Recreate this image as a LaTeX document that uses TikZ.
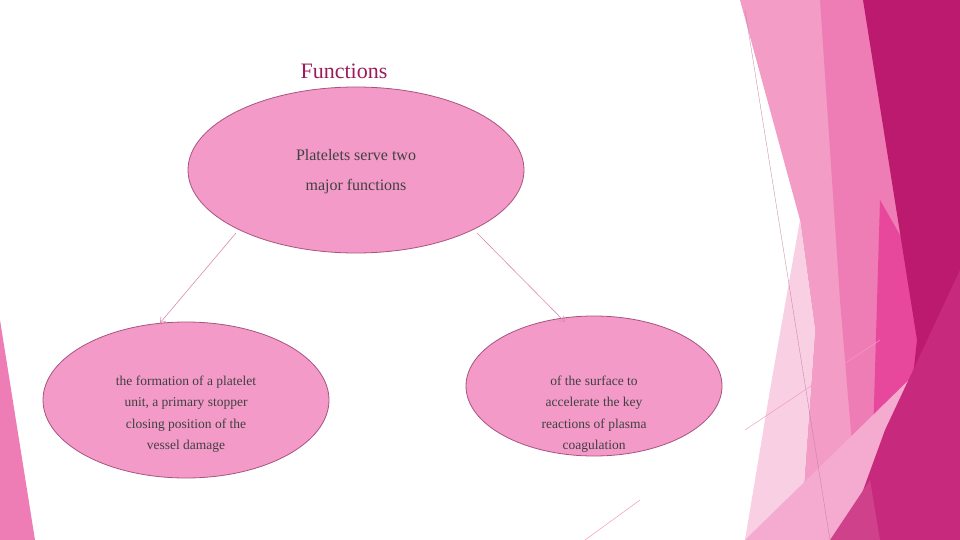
\documentclass[tikz,border=0pt]{standalone}
\usepackage{fontspec}
\setmainfont{Liberation Serif}
\usetikzlibrary{arrows.meta,shapes.geometric}
\definecolor{ell}{HTML}{F39AC8}
\definecolor{ellb}{HTML}{A8557D}
\definecolor{dark}{HTML}{BB1A6E}
\definecolor{mid}{HTML}{C72A7C}
\definecolor{lp}{HTML}{F39CC6}
\definecolor{mp}{HTML}{EE7DB5}
\definecolor{pale}{HTML}{F8CFE3}
\definecolor{hot}{HTML}{E8489C}
\definecolor{tit}{HTML}{9B1B5A}
\tikzset{
 bubble/.style={ellipse,fill=ell,draw=ellb,line width=0.8pt,inner sep=0pt},
 btext/.style={align=center,text=black!75,font=\fontsize{13.5}{21.5}\selectfont},
 link/.style={draw=lp!90!black,line width=0.6pt,-{Straight Barb[length=5pt,width=7pt]}}
}
\begin{document}
\begin{tikzpicture}[x=1pt,y=-1pt]
\useasboundingbox (0,0) rectangle (960,540);
\fill[white] (0,0) rectangle (960,540);
% decoration
\fill[lp] (740,0) -- (960,0) -- (960,540) -- (800,540) -- (815,330) -- (800,220) -- cycle;
\fill[pale] (800,220) -- (815,330) -- (800,540) -- (745,540) -- (770,390) -- cycle;
\fill[mp] (820,0) -- (960,0) -- (960,540) -- (860,540) -- (840,300) -- cycle;
\fill[hot] (880,200) -- (960,340) -- (960,540) -- (870,540) -- cycle;
\fill[lp!85!white] (745,540) -- (960,330) -- (960,540) -- cycle;
\fill[dark] (863,0) -- (960,0) -- (960,540) -- (895,540) -- (917,340) -- cycle;
\fill[mid] (960,270) -- (960,540) -- (845,540) -- (885,430) -- cycle;
\fill[mid!80!lp] (830,540) -- (870,480) -- (880,540) -- cycle;
\draw[lp!80!black,line width=0.3pt] (745,10) -- (830,540);
\draw[lp,line width=0.5pt] (745,430) -- (880,340);
\draw[lp,line width=0.5pt] (585,540) -- (640,500);
\fill[mp] (0,320) -- (0,540) -- (35,540) -- cycle;
% content
\node[text=tit,font=\fontsize{22}{26}\selectfont] (t) at (344,71) {Functions};
\node[bubble,minimum width=336pt,minimum height=166pt] (top) at (356,170) {};
\node[btext,font=\fontsize{16}{30}\selectfont] (toptext) at (356,172) {Platelets serve two\\major functions};
\node[bubble,minimum width=286pt,minimum height=156pt] (l) at (186,400) {};
\node[btext] (ltext) at (186,414) {the formation of a platelet\\unit, a primary stopper\\closing position of the\\vessel damage};
\node[bubble,minimum width=256pt,minimum height=140pt] (r) at (594,386) {};
\node[btext] (rtext) at (594,414) {of the surface to\\accelerate the key\\reactions of plasma\\coagulation};
\coordinate (la) at (236,233); \coordinate (lb) at (160,323);
\coordinate (ra) at (477,233); \coordinate (rb) at (565,322);
\draw[link] (la) -- (lb);
\draw[link] (ra) -- (rb);
\end{tikzpicture}
\end{document}
